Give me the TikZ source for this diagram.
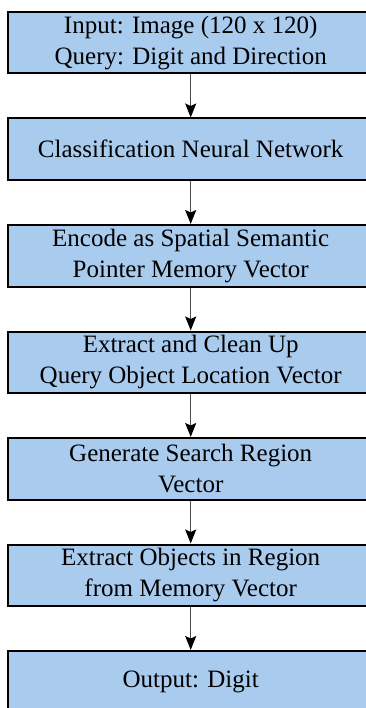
\documentclass[tikz,border=0pt]{standalone}
\usepackage{fontspec}
\setmainfont{Liberation Serif}
\usetikzlibrary{arrows.meta}
\definecolor{boxfill}{RGB}{169,203,238}
\begin{document}
\begin{tikzpicture}[x=1pt,y=1pt,
 stepbox/.style={draw=black, line width=2pt, fill=boxfill, minimum width=365.4pt, minimum height=61.5pt, inner sep=0pt, align=center, font=\fontsize{25}{31}\selectfont},
 flow/.style={draw=black!70, line width=1.4pt, -{Stealth[black, length=14pt, width=11pt, inset=2.5pt]}}]
\useasboundingbox (0,0) rectangle (366,-708);
\clip (0,0) rectangle (366,-708);
\node[stepbox] (b1) at (190.7,-42.75) {Input: Image (120 x 120)\\Query: Digit and Direction};
\node[stepbox] (b2) at (190.7,-149.25) {Classification Neural Network};
\node[stepbox] (b3) at (190.7,-255.75) {Encode as Spatial Semantic\\Pointer Memory Vector};
\node[stepbox] (b4) at (190.7,-362.25) {Extract and Clean Up\\Query Object Location Vector};
\node[stepbox] (b5) at (190.7,-468.75) {Generate Search Region\\Vector};
\node[stepbox] (b6) at (190.7,-575.25) {Extract Objects in Region\\from Memory Vector};
\node[stepbox] (b7) at (190.7,-681.75) {Output: Digit};
\draw[flow] (b1) -- (b2);
\draw[flow] (b2) -- (b3);
\draw[flow] (b3) -- (b4);
\draw[flow] (b4) -- (b5);
\draw[flow] (b5) -- (b6);
\draw[flow] (b6) -- (b7);
\end{tikzpicture}
\end{document}
